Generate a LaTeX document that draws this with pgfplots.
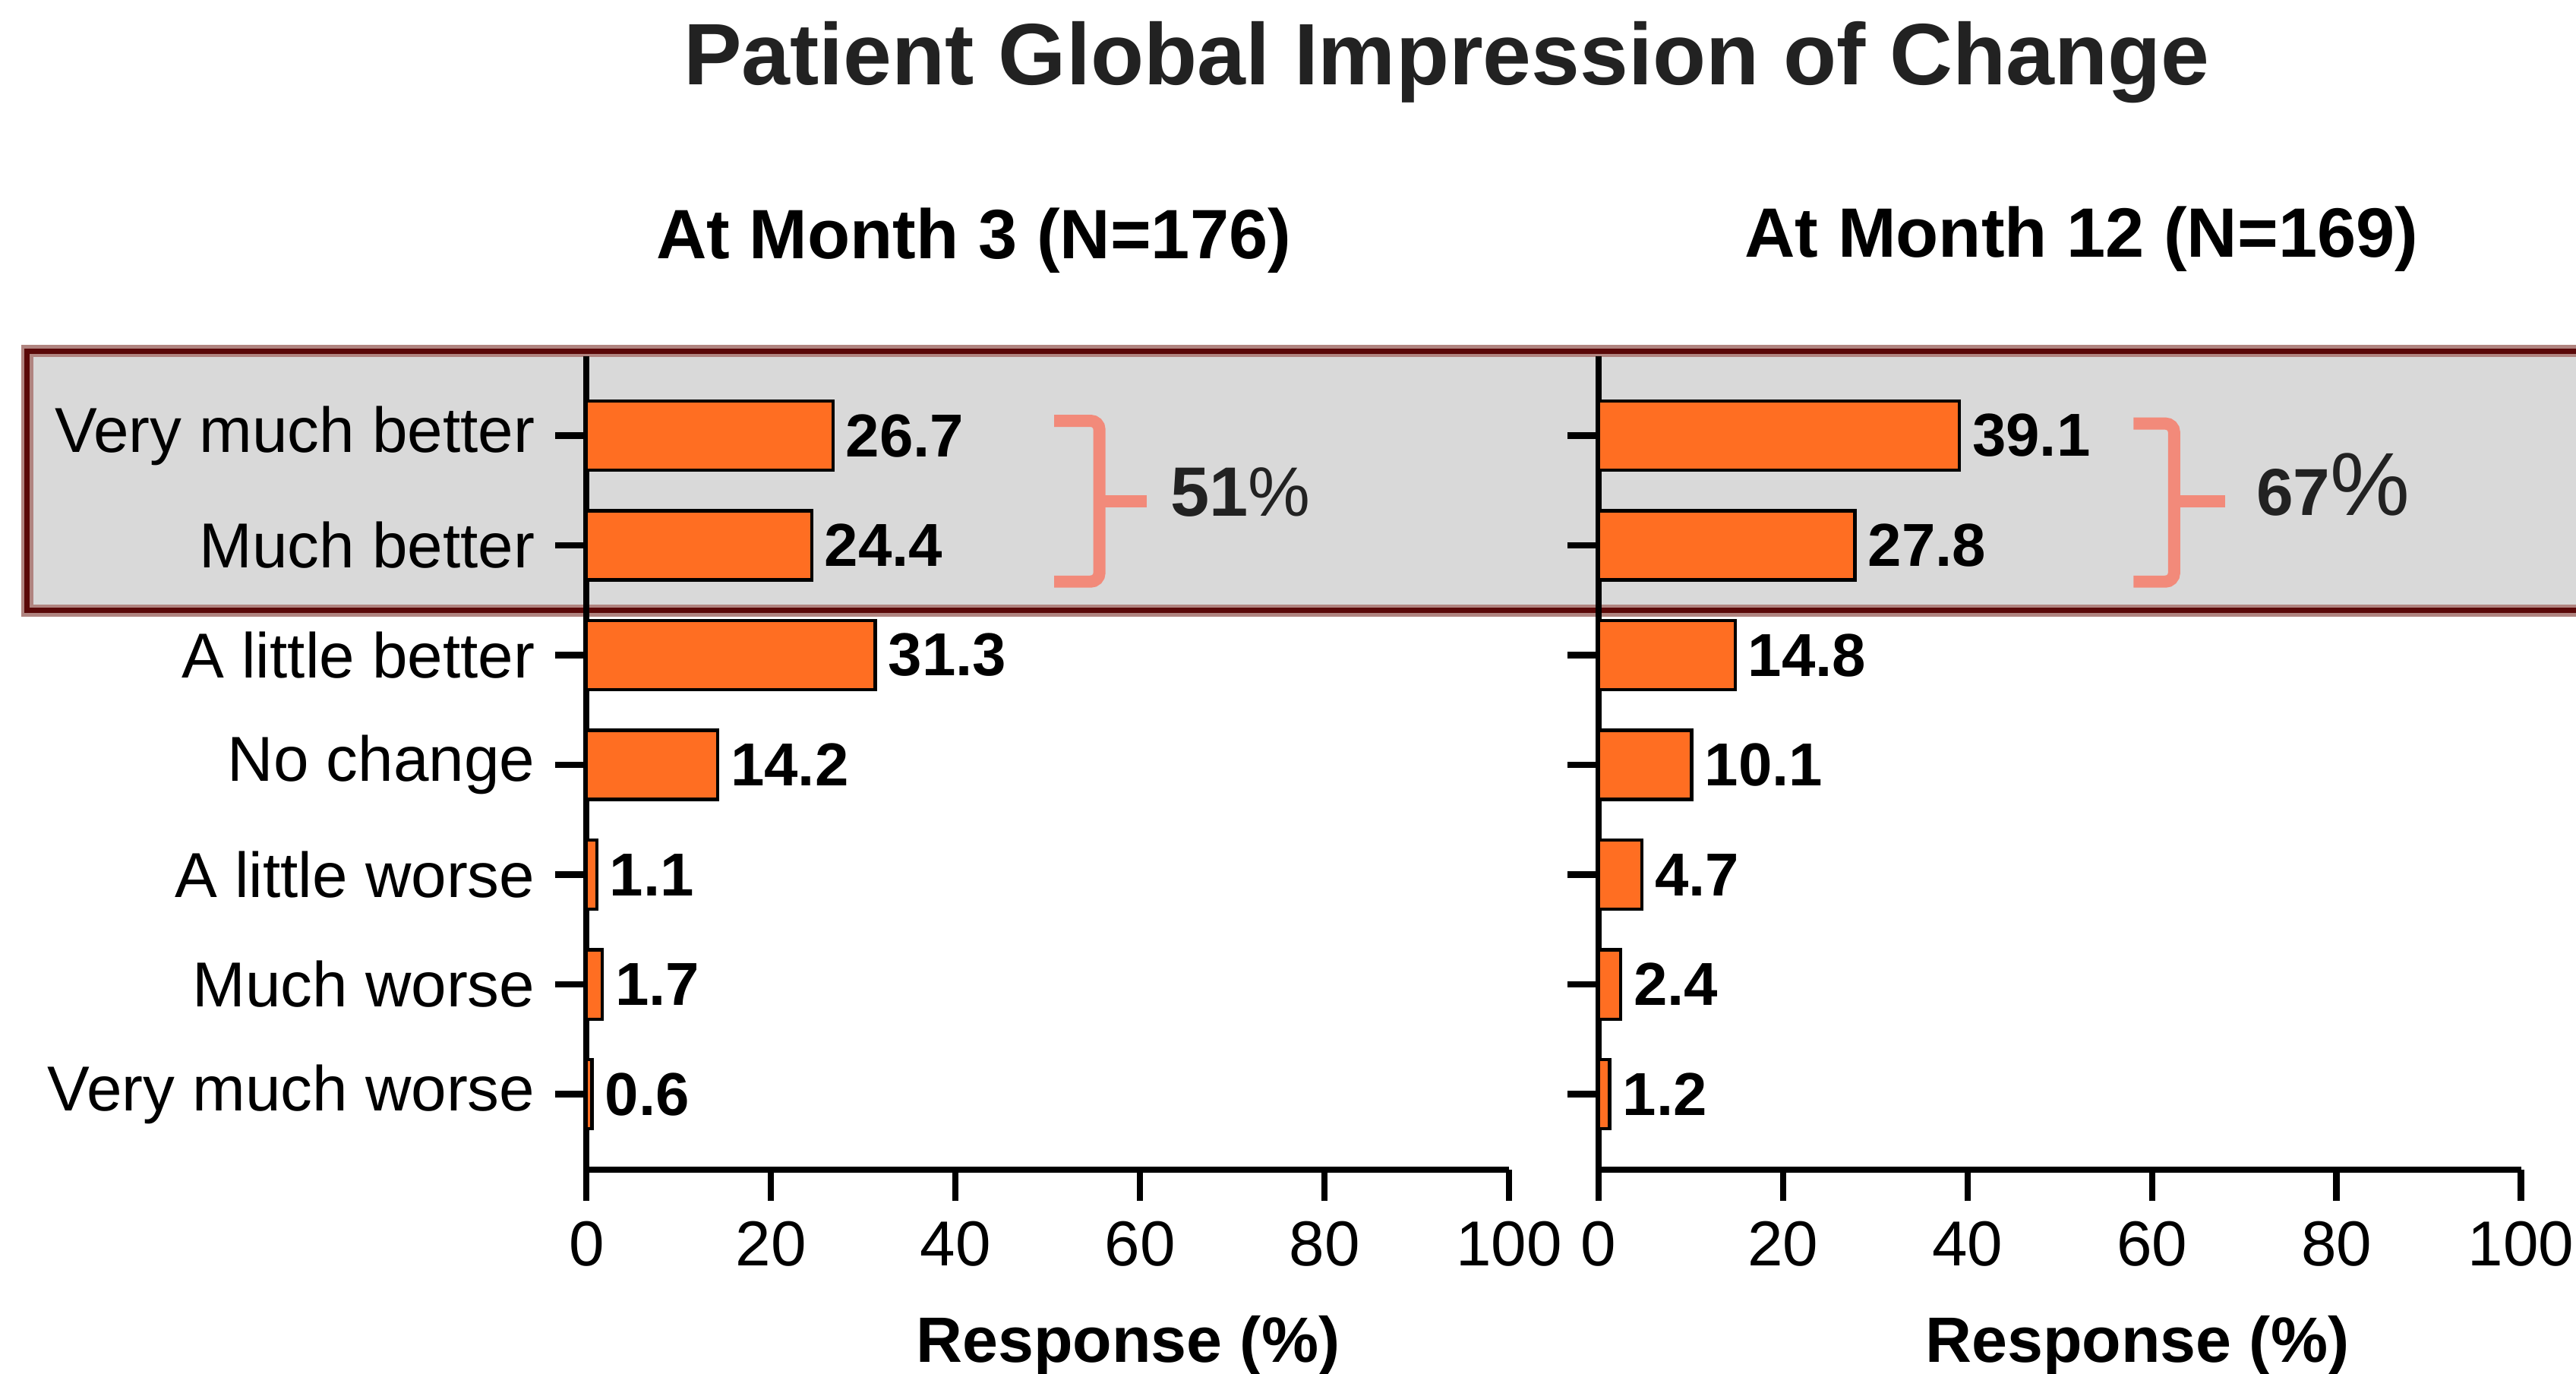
\documentclass[border=0pt]{standalone}
\usepackage{fontspec}
\setmainfont{Liberation Sans}
\usepackage{pgfplots}
\pgfplotsset{compat=1.18}

\definecolor{barorange}{RGB}{255,110,34}
\definecolor{boxgray}{RGB}{217,217,217}
\definecolor{boxedge}{RGB}{90,8,8}
\definecolor{boxhalo}{RGB}{176,132,128}
\definecolor{bracecol}{RGB}{242,138,122}
\definecolor{titlegray}{RGB}{34,34,34}

\pgfplotsset{
  pgic/.style={
    xbar, scale only axis, width=5.615cm, height=4.95cm,
    xmin=0, xmax=100, ymin=-0.69, ymax=6.72,
    axis x line*=bottom, axis y line*=left,
    axis line style={-, line width=1.1pt, black},
    xtick={0,20,...,100}, ytick={0,...,6},
    tick align=outside, major tick length=0.19cm,
    tick style={line width=1.1pt, black},
    /pgf/number format/assume math mode=true,
    xticklabel style={font=\fontsize{11}{13}\selectfont},
    yticklabel style={font=\fontsize{11}{13}\selectfont},
    bar width=0.63,
    clip=false,
    nodes near coords={\pgfmathprintnumber[fixed,fixed zerofill,precision=1]{\pgfplotspointmeta}},
    nodes near coords style={font=\bfseries\fontsize{10.5}{12}\selectfont, inner sep=2pt, anchor=west, text=black},
    xlabel={Response (\%)},
  },
  pgicbar/.style={fill=barorange, draw=black, line width=0.55pt},
}

\begin{document}
\begin{tikzpicture}
\useasboundingbox (0,0) rectangle (15.68,-8.36);

% highlight box behind the two "better" rows
\fill[boxgray] (0.165,-2.136) rectangle (16.4,-3.716);
\draw[boxhalo, line width=0.074cm] (0.165,-2.136) rectangle (16.4,-3.716);
\draw[boxedge, line width=0.032cm] (0.165,-2.136) rectangle (16.4,-3.716);

\node[anchor=base, inner sep=0, text=titlegray, font=\bfseries\fontsize{15.1}{18}\selectfont]
  at (8.806,-0.513) {Patient Global Impression of Change};
\node[anchor=base, inner sep=0, font=\bfseries\fontsize{12.1}{14}\selectfont]
  at (5.927,-1.572) {At Month 3 (N=176)};
\node[anchor=base, inner sep=0, font=\bfseries\fontsize{12.1}{14}\selectfont]
  at (12.67,-1.565) {At Month 12 (N=169)};

% month 3
\begin{axis}[pgic, at={(3.57cm,-7.12cm)}, anchor=south west,
  yticklabels={Very much worse, Much worse, A little worse, No change, A little better, Much better, Very much better},
  xlabel style={font=\bfseries\fontsize{11.1}{13}\selectfont, at={(axis description cs:0.587,-0.236)}, anchor=base},
]
\addplot[pgicbar] coordinates {
  (26.7,6) (24.4,5) (31.3,4) (14.2,3) (1.1,2) (1.7,1) (0.6,0)
};
\draw[bracecol, line width=2.1pt, rounded corners=1.5pt]
  (axis cs:50.7,6.135) -- (axis cs:55.6,6.135) -- (axis cs:55.6,4.67) -- (axis cs:50.7,4.67);
\draw[bracecol, line width=2.1pt] (axis cs:55.6,5.4) -- (axis cs:60.7,5.4);
\node[anchor=base west, inner sep=0, text=titlegray, font=\fontsize{12.1}{14}\selectfont]
  at (axis cs:63.2,5.267) {\textbf{51}\%};
\end{axis}

% month 12
\begin{axis}[pgic, at={(9.73cm,-7.12cm)}, anchor=south west,
  yticklabels={},
  xlabel style={font=\bfseries\fontsize{11.1}{13}\selectfont, at={(axis description cs:0.584,-0.236)}, anchor=base},
]
\addplot[pgicbar] coordinates {
  (39.1,6) (27.8,5) (14.8,4) (10.1,3) (4.7,2) (2.4,1) (1.2,0)
};
\draw[bracecol, line width=2.1pt, rounded corners=1.5pt]
  (axis cs:58.0,6.11) -- (axis cs:62.4,6.11) -- (axis cs:62.4,4.67) -- (axis cs:58.0,4.67);
\draw[bracecol, line width=2.1pt] (axis cs:62.4,5.4) -- (axis cs:67.9,5.4);
\node[anchor=base west, inner sep=0, text=titlegray, font=\fontsize{11.5}{14}\selectfont]
  at (axis cs:71.2,5.274) {\textbf{67}{\fontsize{15.5}{16}\selectfont\%}};
\end{axis}
\end{tikzpicture}
\end{document}
